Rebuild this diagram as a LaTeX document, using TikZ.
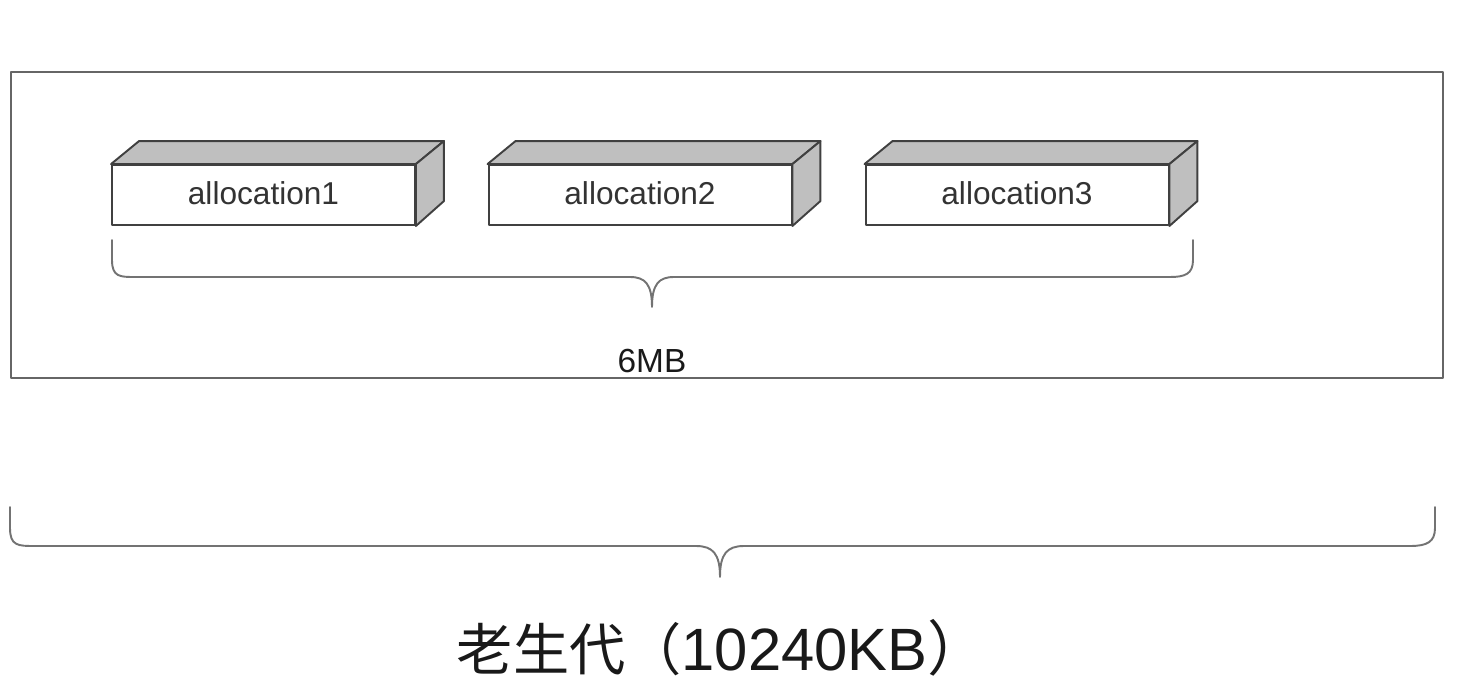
\documentclass[tikz,border=0pt]{standalone}
\usepackage{fontspec}
\setmainfont{Liberation Sans}
\newfontfamily\cjk{Noto Sans CJK SC}
\usetikzlibrary{positioning}

\begin{document}
\begin{tikzpicture}[line cap=round,line join=round,x=0.02cm,y=-0.02cm,
	frontface/.style={draw=black!75,line width=1.1pt,fill=white,minimum width=6.06cm,minimum height=1.2cm,inner sep=0pt,font=\fontsize{18}{20}\selectfont,text=black!80},
	sideface/.style={draw=black!75,line width=1.1pt,fill=black!25},
	bracket/.style={draw=black!55,line width=1.1pt}]
	\useasboundingbox (0,0) rectangle (1458,696);
	% frame of the old generation
	\draw[draw=black!60,line width=1.3pt] (11,72) rectangle (1443,378);
	% the three allocations
	\foreach \i/\xc in {1/263.5,2/640,3/1017}{
		\node[frontface] (alloc\i) at (\xc,195) {\raisebox{2pt}{allocation\i}};
		\draw[sideface] (alloc\i.north west) -- ++(28,-23) -- ++(303,0) -- ([shift={(28,-23)}]alloc\i.north east) -- (alloc\i.north east) -- cycle;
		\draw[sideface] (alloc\i.north east) -- ++(28,-23) -- ++(0,60) -- (alloc\i.south east) -- cycle;
	}
	% brace under the allocations
	\draw[bracket] (112,240) -- (112,260) .. controls (112,277) and (120,277) .. (135,277) -- (630,277) .. controls (645,277) and (652,284) .. (652,307) .. controls (652,284) and (659,277) .. (674,277) -- (1170,277) .. controls (1185,277) and (1193,274) .. (1193,260) -- (1193,240);
	\node[font=\fontsize{19}{21}\selectfont,text=black!90] (mb) at (652,361) {6MB};
	% brace under the whole generation
	\draw[bracket] (10,507) -- (10,528) .. controls (10,546) and (18,546) .. (35,546) -- (696,546) .. controls (713,546) and (720,554) .. (720,577) .. controls (720,554) and (727,546) .. (744,546) -- (1410,546) .. controls (1427,546) and (1435,542) .. (1435,528) -- (1435,507);
	\node[font=\fontsize{34}{38}\selectfont,text=black!90] (old) at (722,648) {{\cjk\fontsize{32}{36}\selectfont 老生代（}10240KB{\cjk ）}};
\end{tikzpicture}
\end{document}
